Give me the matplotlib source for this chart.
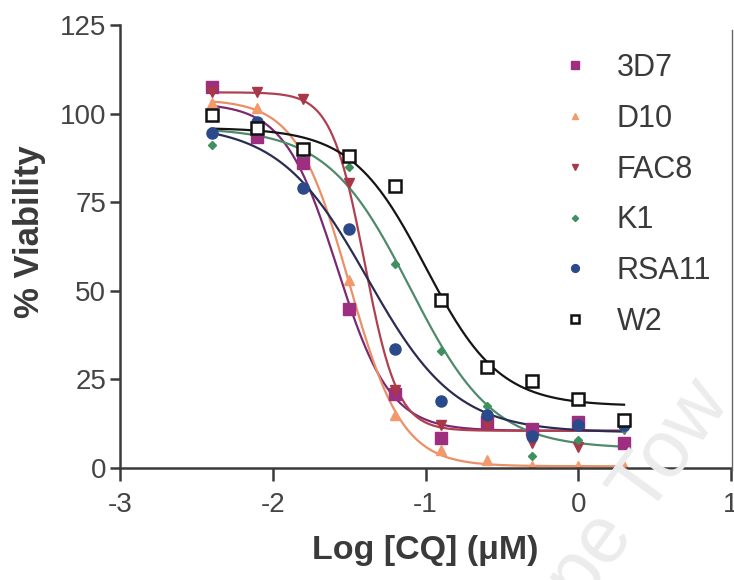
import numpy as np
import matplotlib
matplotlib.use("Agg")
import matplotlib.pyplot as plt
from matplotlib.lines import Line2D

plt.rcParams['font.family'] = ['Liberation Sans', 'DejaVu Sans']

# ---- data ----
log_cq = [-2.4, -2.1, -1.8, -1.5, -1.2, -0.9, -0.6, -0.3, 0.0, 0.3]
strains = ["3D7", "D10", "FAC8", "K1", "RSA11", "W2"]

v_3d7 = [107.5, 93.5, 86, 45, 21, 8.5, 13, 11, 13, 7]
v_d10 = [103, 101.5, 90, 53, 15, 5, 2.3, 0.5, 0.5, 0.5]
v_fac8 = [106, 106, 104, 80.5, 22, 12, 12, 7, 6, 11]
v_k1 = [91, 96, 89, 85, 57.5, 33, 17.5, 3.5, 8, 11]
v_rsa11 = [94.5, 97.5, 79, 67.5, 33.5, 19, 15, 9, 12, 12]
v_w2 = [99.5, 96, 90, 88, 79.5, 47.5, 28.5, 24.5, 19.5, 13.5]

# fitted sigmoid parameters: top, bottom, logIC50, hill slope
fit_top = [103, 104, 106, 96, 97, 96]
fit_bottom = [10.5, 0.5, 10.5, 5.5, 10, 17.5]
fit_logic50 = [-1.58, -1.50, -1.40, -1.10, -1.38, -1.00]
fit_hill = [2.5, 2.5, 4.0, 1.6, 1.5, 1.8]

values = [v_3d7, v_d10, v_fac8, v_k1, v_rsa11, v_w2]

x_ticks = [-3, -2, -1, 0, 1]
y_ticks = [0, 25, 50, 75, 100, 125]

# ---- styles ----
marker_styles = [
    dict(marker='s', ms=8, mfc='#9e2f80', mec='#9e2f80'),
    dict(marker='^', ms=7, mfc='#f29a6c', mec='#f29a6c'),
    dict(marker='v', ms=7, mfc='#a83848', mec='#a83848'),
    dict(marker='D', ms=4.5, mfc='#3f8f5f', mec='#3f8f5f'),
    dict(marker='o', ms=8, mfc='#2b4a8c', mec='#2b4a8c'),
    dict(marker='s', ms=8.5, mfc='white', mec='#111111', mew=1.8),
]
curve_colors = ['#7b2a72', '#eb8f66', '#b0404f', '#4f8a6a', '#2a2c52', '#151515']

fig = plt.figure(figsize=(7.34, 5.8), dpi=100)
W, H = 734, 580
ax = fig.add_axes([120 / W, 1 - 468 / H, (731 - 120) / W, (468 - 25) / H])

xs = np.linspace(log_cq[0], log_cq[-1], 300)
for i, name in enumerate(strains):
    y = fit_bottom[i] + (fit_top[i] - fit_bottom[i]) / (1 + 10 ** ((xs - fit_logic50[i]) * fit_hill[i]))
    ax.plot(xs, y, color=curve_colors[i], lw=1.6, zorder=2)

handles = []
for i, name in enumerate(strains):
    ax.plot(log_cq, values[i], ls='none', zorder=3, **marker_styles[i])
    st = dict(marker_styles[i])
    st['ms'] = st['ms'] * 0.7
    handles.append(Line2D([], [], ls='none', **st))

ax.set_xlim(-3, 1)
ax.set_ylim(0, 125)
ax.set_xticks(x_ticks)
ax.set_yticks(y_ticks)
ax.set_xticklabels([str(t) for t in x_ticks])
ax.set_yticklabels([str(t) for t in y_ticks])

for s in ['top', 'right']:
    ax.spines[s].set_visible(False)
for s in ['left', 'bottom']:
    ax.spines[s].set_linewidth(1.8)
    ax.spines[s].set_color('#3a3a3a')
    ax.spines[s].set_zorder(4)
ax.tick_params(axis='y', length=7, width=1.8, color='#3a3a3a', labelsize=20,
               labelcolor='#444444', pad=3)
ax.tick_params(axis='x', length=9, width=1.8, color='#3a3a3a', labelsize=20,
               labelcolor='#444444', pad=8)
for sp in ax.spines.values():
    sp.set_clip_on(False)

ax.set_ylabel('% Viability', fontsize=25, fontweight='bold', color='#3a3a3a',
              va='center', ha='center')
ax.yaxis.set_label_coords((30 - 120) / 611, (468 - 232) / 443)
ax.set_xlabel('Log [CQ] (\u03bcM)', fontsize=24.5, fontweight='bold', color='#3a3a3a',
              va='center', ha='center')
ax.xaxis.set_label_coords(0.5, -(550 - 468) / 443)

leg = fig.legend(handles, strains, loc='upper left', bbox_to_anchor=(560 / W, 1 - 53 / H),
                 frameon=False, fontsize=22, handlelength=1.0, handletextpad=0.85,
                 labelspacing=0.68, borderaxespad=0, borderpad=0)
for t in leg.get_texts():
    t.set_color('#3a3a3a')

# right page edge line seen in the scan
fig.add_artist(Line2D([732 / W, 732 / W], [1 - 30 / H, 1 - 470 / H],
                      transform=fig.transFigure, color='#666666', lw=1.0))

# faint page watermark
fig.text(640 / W, 1 - 492 / H, 'pe Tow', fontsize=58, color='#ececec', rotation=54,
         ha='center', va='center', zorder=0)

fig.savefig('out.png', dpi=100)
